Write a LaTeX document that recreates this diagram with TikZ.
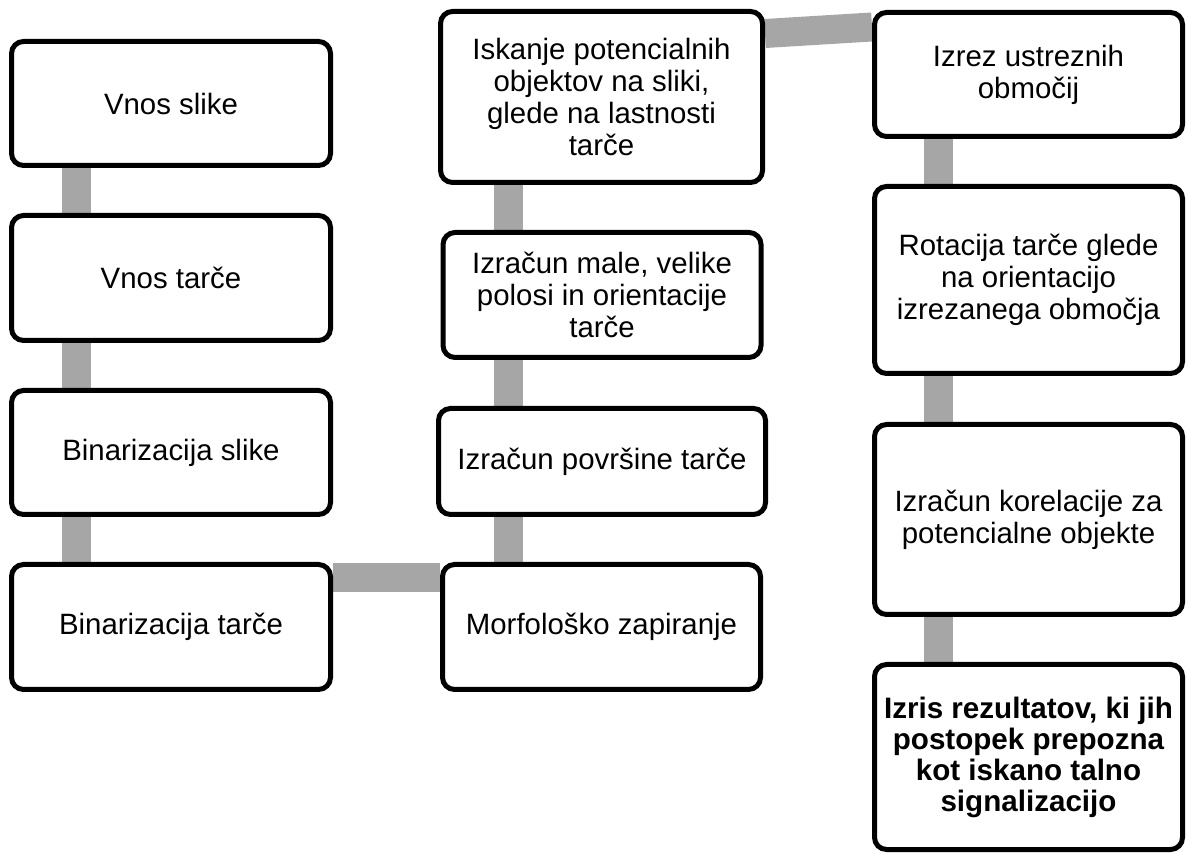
\documentclass[tikz,border=0pt]{standalone}
\usepackage{fontspec}
\setmainfont{Liberation Sans}
\usetikzlibrary{backgrounds,calc}
\definecolor{linkgray}{RGB}{166,166,166}

\begin{document}
\begin{tikzpicture}[x=0.5pt,y=-0.5pt,
  stepbox/.style={draw=black,line width=2.5pt,rounded corners=6pt,fill=white,
    align=center,inner sep=0pt,font=\fontsize{14.7}{16}\selectfont},
  link/.style={draw=linkgray,line width=14.5pt}]
  \useasboundingbox (0,0) rectangle (1188,854);
  % Column 1
  \node[stepbox,minimum width=159.5pt,minimum height=62pt] (vslike) at (171,103.5) {Vnos slike};
  \node[stepbox,minimum width=159.5pt,minimum height=62.5pt] (vtarce) at (171,278) {Vnos tarče};
  \node[stepbox,minimum width=159.5pt,minimum height=62pt] (bslike) at (171,452.5) {Binarizacija slike};
  \node[stepbox,minimum width=159.5pt,minimum height=62.5pt] (btarce) at (171,627) {Binarizacija tarče};
  % Column 2
  \node[stepbox,minimum width=161pt,minimum height=85.5pt] (iskanje) at (601.5,97)
    {Iskanje potencialnih\\objektov na sliki,\\glede na lastnosti\\tarče};
  \node[stepbox,minimum width=159pt,minimum height=62.5pt] (polosi) at (602,295)
    {Izračun male, velike\\polosi in orientacije\\tarče};
  \node[stepbox,minimum width=163.5pt,minimum height=53pt] (povrsina) at (602,461.5) {Izračun površine tarče};
  \node[stepbox,minimum width=159pt,minimum height=62.5pt] (zapiranje) at (601.5,627) {Morfološko zapiranje};
  % Column 3
  \node[stepbox,minimum width=154pt,minimum height=62pt] (izrez) at (1028.5,74.5) {Izrez ustreznih\\območij};
  \node[stepbox,minimum width=154pt,minimum height=93.5pt] (rotacija) at (1028.5,280)
    {Rotacija tarče glede\\na orientacijo\\izrezanega območja};
  \node[stepbox,minimum width=154pt,minimum height=95pt] (korelacija) at (1028.5,519.5)
    {Izračun korelacije za\\potencialne objekte};
  \node[stepbox,minimum width=154pt,minimum height=92.5pt,font=\fontsize{14.8}{15.5}\selectfont\bfseries] (izris) at (1028.5,757)
    {Izris rezultatov, ki jih\\postopek prepozna\\kot iskano talno\\signalizacijo};
  % Connectors behind the boxes
  \coordinate (col1) at (76,0);
  \coordinate (col2) at (508,0);
  \coordinate (col3) at (938,0);
  \coordinate (row4) at (0,578);
  \begin{scope}[on background layer]
    \draw[link] (vslike.south -| col1) -- (vtarce.north -| col1);
    \draw[link] (vtarce.south -| col1) -- (bslike.north -| col1);
    \draw[link] (bslike.south -| col1) -- (btarce.north -| col1);
    \draw[link] (btarce.east |- row4) -- (zapiranje.west |- row4);
    \draw[link] (zapiranje.north -| col2) -- (povrsina.south -| col2);
    \draw[link] (povrsina.north -| col2) -- (polosi.south -| col2);
    \draw[link] (polosi.north -| col2) -- (iskanje.south -| col2);
    \draw[link] ($(iskanje.north east)+(0,24.5)$) -- ($(izrez.north west)+(0,17)$);
    \draw[link] (izrez.south -| col3) -- (rotacija.north -| col3);
    \draw[link] (rotacija.south -| col3) -- (korelacija.north -| col3);
    \draw[link] (korelacija.south -| col3) -- (izris.north -| col3);
  \end{scope}
\end{tikzpicture}
\end{document}
